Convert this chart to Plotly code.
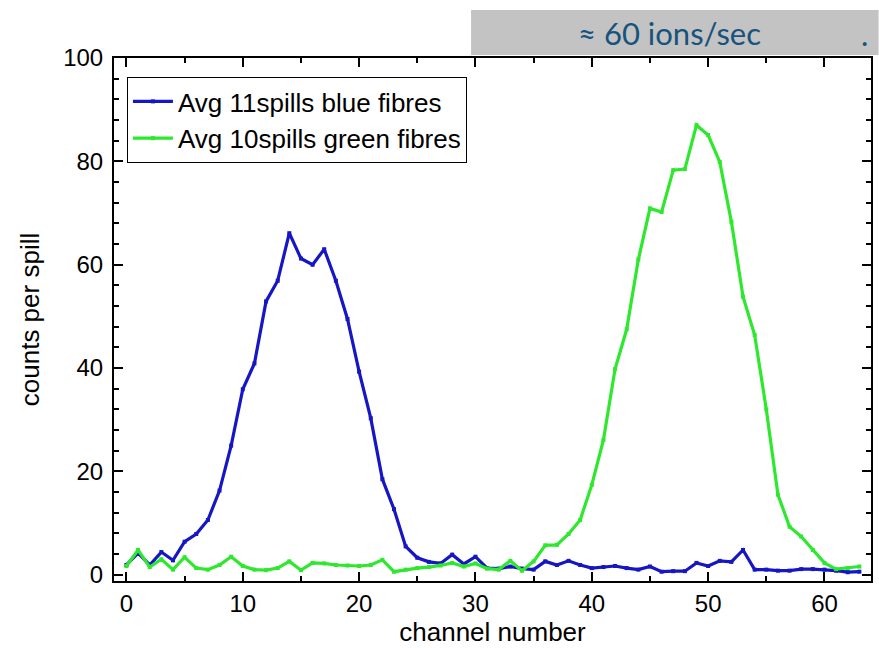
import plotly.graph_objects as go

# Channel index of the fibre array
channels = list(range(64))

# Mean counts per spill, blue fibres (11 spills averaged)
blue_counts = [
    1.9, 4.2, 1.9, 4.4, 2.8, 6.4, 7.9, 10.6, 16.3, 25.0,
    35.9, 40.9, 52.9, 56.9, 66.1, 61.2, 60.0, 63.0, 56.9, 49.5,
    39.3, 30.3, 18.5, 12.7, 5.5, 3.3, 2.5, 2.2, 3.9, 2.1,
    3.5, 1.3, 1.2, 1.6, 1.2, 1.0, 2.6, 1.9, 2.7, 1.9,
    1.3, 1.5, 1.7, 1.3, 1.0, 1.6, 0.6, 0.7, 0.7, 2.3,
    1.7, 2.7, 2.5, 4.8, 1.0, 1.0, 0.8, 0.8, 1.1, 1.1,
    1.0, 0.8, 0.5, 0.6,
]

# Mean counts per spill, green fibres (10 spills averaged)
green_counts = [
    1.7, 4.8, 1.5, 3.0, 1.0, 3.4, 1.3, 1.0, 1.9, 3.5,
    1.7, 1.0, 0.9, 1.3, 2.6, 0.9, 2.3, 2.2, 1.9, 1.8,
    1.7, 1.9, 2.9, 0.6, 1.0, 1.3, 1.5, 1.8, 2.3, 1.6,
    2.2, 1.2, 1.0, 2.7, 0.8, 2.6, 5.7, 5.8, 7.9, 10.6,
    17.4, 26.1, 39.8, 47.5, 61.0, 70.9, 70.2, 78.3, 78.5, 87.0,
    85.1, 79.9, 68.3, 53.8, 46.4, 32.0, 15.5, 9.3, 7.4, 4.8,
    2.3, 1.1, 1.3, 1.6,
]

series_names = ["Avg 11spills blue fibres", "Avg 10spills green fibres"]
rate_note = "≈ 60 ions/sec"

BLUE = "#1616c4"
GREEN = "#2ee82e"
FONT = "Liberation Sans, Arial, sans-serif"
NOTE_FONT = "Lato, Open Sans, sans-serif"
NOTE_COLOR = "#17537c"

fig = go.Figure()
for name, ys, col in [(series_names[0], blue_counts, BLUE),
                      (series_names[1], green_counts, GREEN)]:
    fig.add_trace(go.Scatter(
        x=channels, y=ys, name=name, mode="lines+markers",
        line=dict(color=col, width=3.2),
        marker=dict(symbol="square", size=4, color=col),
    ))

axis_common = dict(
    showline=True, linecolor="black", linewidth=2, mirror="ticks",
    ticks="inside", ticklen=9, tickwidth=2, tickcolor="black",
    showgrid=False, zeroline=False,
    tickfont=dict(family=FONT, size=24, color="black"),
)

fig.update_xaxes(
    range=[-1.07, 64], tick0=0, dtick=10,
    minor=dict(ticks="inside", dtick=5, ticklen=5, tickwidth=2, tickcolor="black"),
    title=dict(text="channel number", font=dict(family=FONT, size=26, color="black"), standoff=4),
    **axis_common,
)
fig.update_yaxes(
    range=[-1.2, 100], tick0=0, dtick=20,
    minor=dict(ticks="inside", dtick=4, ticklen=5, tickwidth=2, tickcolor="black"),
    ticklabelstandoff=4,
    title=dict(text="counts per spill", font=dict(family=FONT, size=26, color="black"), standoff=16),
    **axis_common,
)

# Grey banner with the beam rate
fig.add_shape(type="rect", xref="paper", yref="paper",
              x0=0.4717, x1=1.01, y0=1.0057, y1=1.092,
              fillcolor="#c3c3c3", line=dict(width=0), layer="below")
fig.add_annotation(xref="paper", yref="paper", x=0.734, y=1.048,
                   xanchor="center", yanchor="middle",
                   text=rate_note, showarrow=False,
                   font=dict(family=NOTE_FONT, size=31, color=NOTE_COLOR))
fig.add_annotation(xref="paper", yref="paper", x=0.9915, y=1.046,
                   xanchor="center", yanchor="middle",
                   text=".", showarrow=False,
                   font=dict(family=NOTE_FONT, size=31, color=NOTE_COLOR))

fig.update_layout(
    width=879, height=648,
    margin=dict(l=114, r=6, t=58, b=67),
    paper_bgcolor="white", plot_bgcolor="white",
    showlegend=True,
    legend=dict(
        x=0.0171, y=0.9637, xanchor="left", yanchor="top",
        bgcolor="white", bordercolor="black", borderwidth=1,
        font=dict(family=FONT, size=26, color="black"),
        tracegroupgap=0, itemwidth=40,
    ),
)

fig.write_html("out.html")
